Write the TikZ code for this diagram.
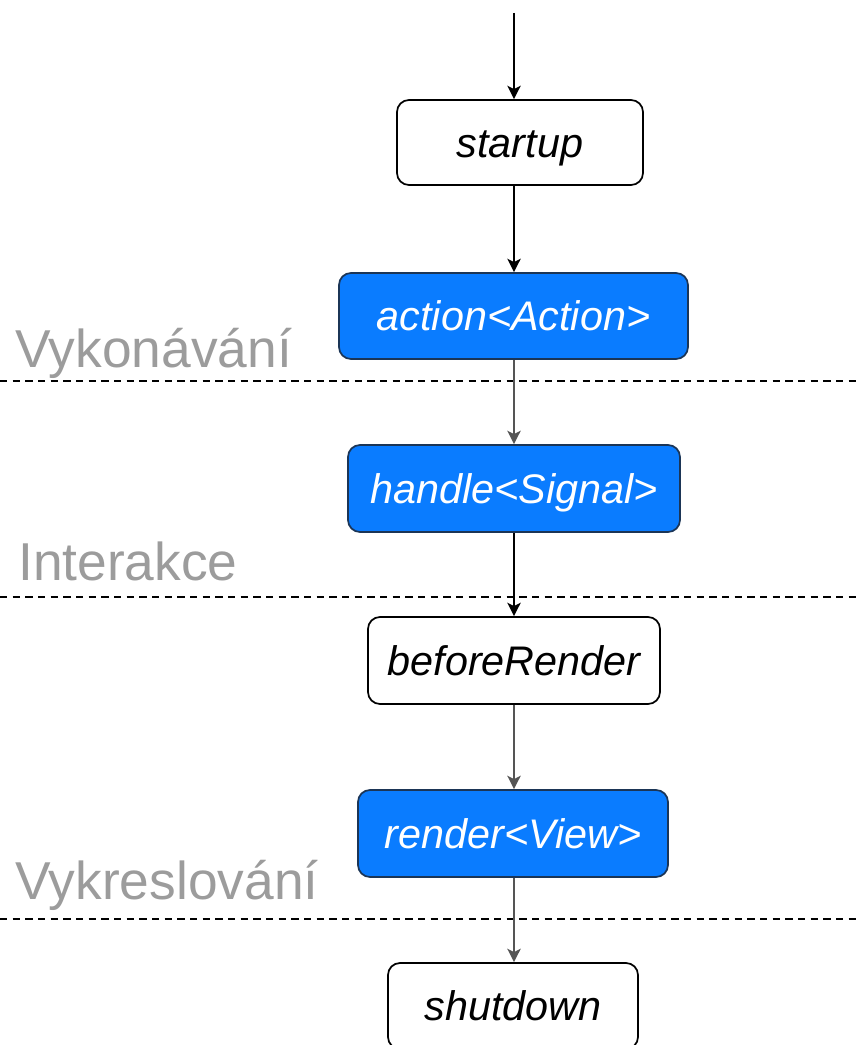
\documentclass[tikz,border=0pt]{standalone}
\usepackage{fontspec}
\setmainfont{Liberation Sans}
\usetikzlibrary{arrows.meta}
\definecolor{boxblue}{HTML}{0A7CFF}
\definecolor{boxedge}{HTML}{1B3556}
\definecolor{lblgray}{HTML}{9C9C9C}
\definecolor{arrgray}{HTML}{555555}
\tikzset{
  wbox/.style={draw=black, line width=1.3pt, fill=white, rounded corners=9pt,
    inner sep=0pt, text height=22pt, text depth=0pt,
    font=\fontsize{31}{36}\selectfont\itshape, text=black},
  bbox/.style={draw=boxedge, line width=1.3pt, fill=boxblue, rounded corners=9pt,
    inner sep=0pt, text height=22pt, text depth=0pt,
    font=\fontsize{31}{36}\selectfont\itshape, text=white},
  arr/.style={line width=1.4pt, -{Stealth[length=10pt,width=10pt,inset=2.5pt]}},
  sep/.style={line width=1pt, dash pattern=on 5.5pt off 4pt},
  lbl/.style={anchor=base west, inner sep=0pt, text=lblgray, font=\fontsize{40}{46}\selectfont}
}
\begin{document}
\begin{tikzpicture}[x=0.75pt,y=-0.75pt]
\useasboundingbox (0,0) rectangle (861,1045);
% separators
\draw[sep] (0,381) coordinate (s1a) -- (858,381) coordinate (s1b);
\draw[sep] (0,597) coordinate (s2a) -- (858,597) coordinate (s2b);
\draw[sep] (0,919) coordinate (s3a) -- (858,919) coordinate (s3b);
% labels
\node[lbl] (l1) at (15,367) {Vykonávání};
\node[lbl] (l2) at (18,580) {Interakce};
\node[lbl] (l3) at (15,899) {Vykreslování};
% boxes
\node[wbox, minimum width=246*0.75pt, minimum height=85*0.75pt] (startup) at (520,142.5) {startup};
\node[bbox, minimum width=349*0.75pt, minimum height=86*0.75pt] (action) at (513.5,316) {action<Action>};
\node[bbox, minimum width=332*0.75pt, minimum height=87*0.75pt] (handle) at (514,488.5) {handle<Signal>};
\node[wbox, minimum width=292*0.75pt, minimum height=87*0.75pt] (before) at (514,660.5) {beforeRender};
\node[bbox, minimum width=310*0.75pt, minimum height=87*0.75pt] (render) at (513,833.5) {render<View>};
\node[wbox, minimum width=250*0.75pt, minimum height=86*0.75pt] (shutdown) at (513,1006) {shutdown};
% connectors
\coordinate (top) at (514,13);
\draw[arr] (top) -- (startup.north -| top);
\draw[arr] (startup.south -| top) -- (action.north -| top);
\draw[arr, draw=arrgray] (action.south -| top) -- (handle.north -| top);
\draw[arr] (handle.south -| top) -- (before.north -| top);
\draw[arr, draw=arrgray] (before.south -| top) -- (render.north -| top);
\draw[arr, draw=arrgray] (render.south -| top) -- (shutdown.north -| top);
\end{tikzpicture}
\end{document}
